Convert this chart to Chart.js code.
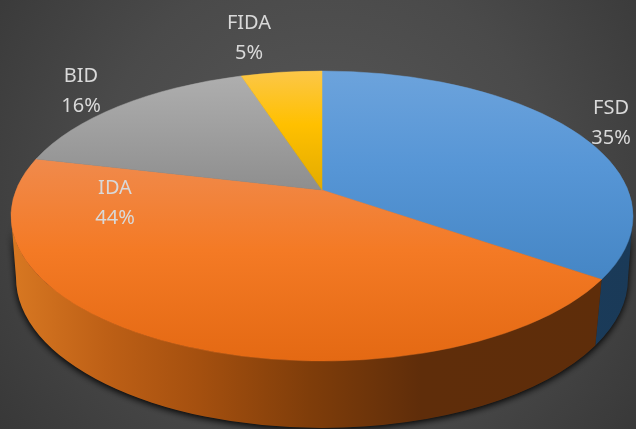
<!DOCTYPE html>
<html>
<head>
<meta charset="utf-8">
<style>html,body{margin:0;padding:0;background:#404040;overflow:hidden}canvas{display:block}</style>
<script src="https://cdn.jsdelivr.net/npm/chart.js@4/dist/chart.umd.min.js"></script>
</head>
<body>
<canvas id="c" width="636" height="429"></canvas>
<script>
const categories = ["FSD", "IDA", "BID", "FIDA"];
const shares = [34.7, 44.0, 16.3, 5.0];
const baseColors = ["#5B9BD5", "#ED7D31", "#A5A5A5", "#FFC000"];
const topGradients = [
  ["#6CA3DC", "#5796D6", "#4586C5"],
  ["#F08A4C", "#F47A25", "#E46913"],
  ["#AEAEAE", "#A0A0A0", "#8E8E8E"],
  ["#FCC748", "#FFC000", "#E3AB00"]
];
const orangeWall = [[0.0,"#D87822"],[0.15,"#BE6016"],[0.3,"#A5500F"],[0.48,"#7F3D0A"],[0.66,"#5F2D0A"],[1,"#5E2D0A"]];
const blueWall = [[0,"#1E4464"],[1,"#1A3A58"]];
const labelAnchors = [[611, 108], [115, 188], [81, 76], [249, 23]];

// Projection of the flat pie on to the tilted view
const view = { cx: 322, apexY: 190, A: 140.3, B: 0.1793, C: 306,
               topCy: 216, topRx: 311, topRy: 145,
               lowCx: 322, lowCy: 278, lowRx: 306, lowRy: 150 };

function rimParam(angle) {
  const u = Math.cos(angle), v = Math.sin(angle), w = 1 - view.B * v;
  const X = view.C * u / w, Y = view.apexY + view.A * v / w;
  return Math.atan2((Y - view.topCy) / view.topRy, X / view.topRx);
}
function lowParam(p) { return p + 0.03 * Math.sin(p); }
function topPoint(p) { return [view.cx + view.topRx * Math.cos(p), view.topCy + view.topRy * Math.sin(p)]; }
function lowPoint(p) { return [view.lowCx + view.lowRx * Math.cos(p), view.lowCy + view.lowRy * Math.sin(p)]; }

function span(el) {
  const a = el.getProps(["startAngle", "endAngle"], true);
  let p0 = rimParam(a.startAngle), p1 = rimParam(a.endAngle);
  while (p1 <= p0) p1 += Math.PI * 2;
  return [p0, p1];
}

// Flat wedge: apex, then the rim ellipse
Chart.ArcElement.prototype.draw = function (ctx) {
  const [p0, p1] = span(this);
  const i = this.$context ? this.$context.dataIndex : 0;
  const pts = [topPoint(p0), topPoint(p1), [view.cx, view.apexY]];
  let minY = Math.min(...pts.map(p => p[1])), maxY = Math.max(...pts.map(p => p[1]));
  for (let k = -1; k < 3; k++) {
    const crit = Math.PI / 2 + k * Math.PI;
    for (const t of [crit, crit + 2 * Math.PI]) {
      if (t > p0 && t < p1) { const y = topPoint(t)[1]; minY = Math.min(minY, y); maxY = Math.max(maxY, y); }
    }
  }
  const g = ctx.createLinearGradient(0, minY, 0, maxY);
  const stops = topGradients[i];
  g.addColorStop(0, stops[0]); g.addColorStop(0.45, stops[1]); g.addColorStop(1, stops[2]);
  ctx.save();
  ctx.beginPath();
  ctx.moveTo(view.cx, view.apexY);
  ctx.ellipse(view.cx, view.topCy, view.topRx, view.topRy, 0, p0, p1);
  ctx.closePath();
  ctx.fillStyle = g;
  ctx.fill();
  ctx.strokeStyle = g;
  ctx.lineWidth = 0.5;
  ctx.stroke();
  ctx.restore();
};

const scene = {
  id: "scene",
  beforeDraw(chart) {
    const { ctx, width, height } = chart;
    const g = ctx.createRadialGradient(322, 190, 30, 322, 190, 420);
    g.addColorStop(0, "#565656");
    g.addColorStop(0.5, "#4A4A4A");
    g.addColorStop(1, "#363636");
    ctx.fillStyle = g;
    ctx.fillRect(0, 0, width, height);
  },
  beforeDatasetsDraw(chart) {
    const { ctx } = chart;
    const arcs = chart.getDatasetMeta(0).data;
    // silhouette with soft shadow
    ctx.save();
    ctx.shadowColor = "rgba(0,0,0,1)";
    ctx.shadowBlur = 7;
    ctx.shadowOffsetY = 2;
    ctx.fillStyle = "#222";
    ctx.beginPath();
    ctx.ellipse(view.lowCx, view.lowCy, view.lowRx, view.lowRy, 0, 0, Math.PI);
    ctx.ellipse(view.cx, view.topCy, view.topRx, view.topRy, 0, Math.PI, 0, true);
    ctx.closePath();
    ctx.fill();
    ctx.restore();
    // visible wall of each slice
    arcs.forEach((el, i) => {
      let [p0, p1] = span(el);
      const ranges = [[p0, p1], [p0 - 2 * Math.PI, p1 - 2 * Math.PI]];
      ranges.forEach(([a, b]) => {
        a = Math.max(a, 0); b = Math.min(b, Math.PI);
        if (b <= a) return;
        const g = ctx.createLinearGradient(11, 0, 633, 0);
        const stops = i === 0 ? blueWall : orangeWall;
        stops.forEach(s => g.addColorStop(s[0], s[1]));
        const la = lowParam(a), lb = lowParam(b);
        const lp = lowPoint(lb);
        ctx.beginPath();
        ctx.ellipse(view.cx, view.topCy, view.topRx, view.topRy, 0, a, b);
        ctx.lineTo(lp[0], lp[1]);
        ctx.ellipse(view.lowCx, view.lowCy, view.lowRx, view.lowRy, 0, lb, la, true);
        ctx.closePath();
        ctx.fillStyle = g;
        ctx.fill();
      });
    });
  },
  afterDatasetsDraw(chart) {
    const { ctx } = chart;
    ctx.save();
    ctx.font = '20px "Noto Sans", "Open Sans", sans-serif';
    ctx.fillStyle = "#D9D9D9";
    ctx.textAlign = "center";
    ctx.textBaseline = "middle";
    categories.forEach((name, i) => {
      const [x, y] = labelAnchors[i];
      ctx.fillText(name, x, y);
      ctx.fillText(Math.round(shares[i]) + "%", x, y + 30);
    });
    ctx.restore();
  }
};

new Chart(document.getElementById("c"), {
  type: "pie",
  data: { labels: categories, datasets: [{ data: shares, backgroundColor: baseColors, borderWidth: 0 }] },
  options: {
    responsive: false,
    animation: false,
    plugins: { legend: { display: false }, tooltip: { enabled: false } }
  },
  plugins: [scene]
});
</script>
</body>
</html>
